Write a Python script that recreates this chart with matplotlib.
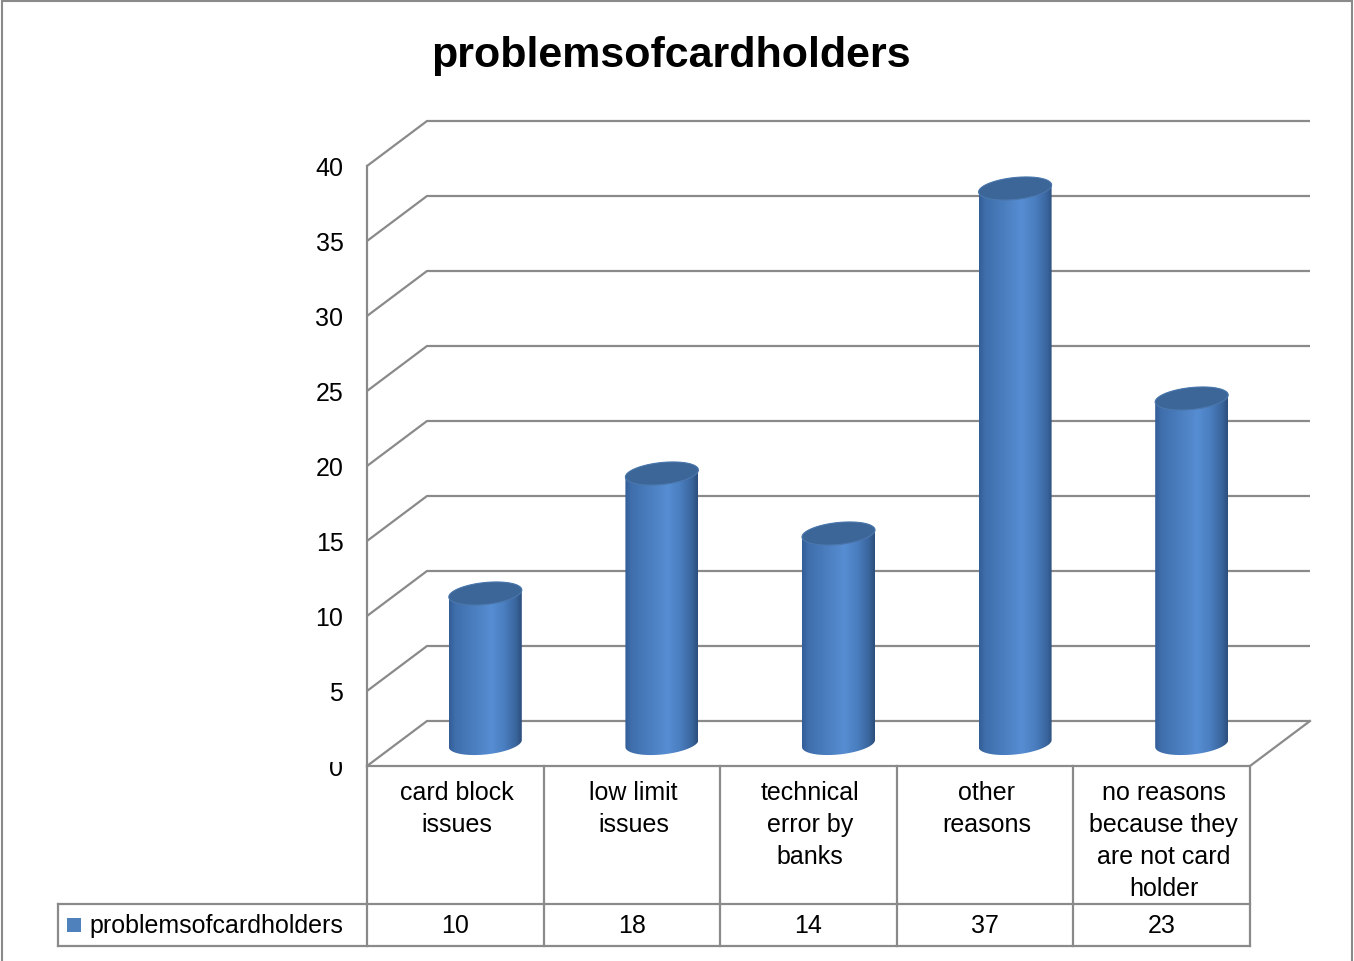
import numpy as np
import matplotlib
matplotlib.use("Agg")
import matplotlib.pyplot as plt
from matplotlib.patches import Polygon, Rectangle
from matplotlib.colors import LinearSegmentedColormap

plt.rcParams["font.family"] = ["Liberation Sans", "DejaVu Sans"]

# ---- data -------------------------------------------------------------
title = "problemsofcardholders"
series_name = "problemsofcardholders"
categories = [
    "card block\nissues",
    "low limit\nissues",
    "technical\nerror by\nbanks",
    "other\nreasons",
    "no reasons\nbecause they\nare not card\nholder",
]
values = [10, 18, 14, 37, 23]
y_ticks = [0, 5, 10, 15, 20, 25, 30, 35, 40]

# ---- figure / axes ----------------------------------------------------
W, H = 1354, 962
fig = plt.figure(figsize=(W / 100, H / 100), dpi=100)
fig.patch.set_facecolor("white")

left_px, right_px, top_px, bottom_px = 367, 1250, 167, 767
ax = fig.add_axes([left_px / W, 1 - bottom_px / H,
                   (right_px - left_px) / W, (bottom_px - top_px) / H])
n = len(categories)
ymax = y_ticks[-1]
ax.set_xlim(0, n)
ax.set_ylim(0, ymax)
for s in ax.spines.values():
    s.set_visible(False)
ax.set_xticks([])
ax.patch.set_alpha(0)

px_x = (right_px - left_px) / n          # pixels per category
px_y = (bottom_px - top_px) / ymax       # pixels per value unit
dx = 60 / px_x                           # depth offset (x)
dy = 45 / px_y                           # depth offset (y)

grid_col = "#8a8a8a"
glw = 1.6

# back wall grid + side wall diagonals
for v in y_ticks:
    ax.plot([0, dx, n + dx], [v, v + dy, v + dy], color=grid_col, lw=glw,
            clip_on=False, zorder=1, solid_capstyle="butt")
# front vertical wall edge
ax.plot([0, 0], [0, ymax], color=grid_col, lw=glw, clip_on=False, zorder=1)
# floor front edge and right floor edge
ax.plot([0, n, n + dx], [0, 0, dy], color=grid_col, lw=glw, clip_on=False, zorder=1)

# y tick labels
ax.set_yticks(y_ticks)
ax.set_yticklabels([str(v) for v in y_ticks])
ax.tick_params(axis="y", length=0, pad=17, labelsize=18, labelcolor="black")
fig.canvas.draw()
zero_label = ax.get_yticklabels()[0]
clip_rect = Rectangle((-3, -5), 3, 5 + 0.25, transform=ax.transData,
                      facecolor="none", edgecolor="none")
ax.add_patch(clip_rect)
zero_label.set_clip_path(clip_rect)
zero_label.set_clip_on(True)

# ---- cylinders ----------------------------------------------------------
body_cmap = LinearSegmentedColormap.from_list("cyl", [
    (0.00, "#335d96"), (0.08, "#3f6eab"), (0.35, "#4b7fc0"),
    (0.58, "#578dd2"), (0.76, "#4a7ec0"), (0.92, "#3a659d"),
    (1.00, "#2c4e7c")])

cyl_w = 73 / px_x
a = cyl_w / 2
b = 11 / px_y
shear = 3.5 / px_y
base = dy / 2
t_low = np.linspace(0, -np.pi, 60)
t_up = np.linspace(np.pi, 0, 60)
t_full = np.linspace(0, 2 * np.pi, 120)
grad = np.linspace(0, 1, 256).reshape(1, -1)

for i, v in enumerate(values):
    cx = i + 0.5 + dx / 2
    top = base + v
    # body outline: base lower arc, left side, top upper arc, right side
    xs_low = cx + a * np.cos(t_low)
    ys_low = base + b * np.sin(t_low) + shear * np.cos(t_low)
    xs_up = cx + a * np.cos(t_up)
    ys_up = top + b * np.sin(t_up) + shear * np.cos(t_up)
    verts = np.vstack([np.column_stack([xs_low, ys_low]),
                       np.column_stack([xs_up, ys_up])])
    body = Polygon(verts, closed=True, facecolor="none", edgecolor="none",
                   transform=ax.transData)
    ax.add_patch(body)
    im = ax.imshow(grad, cmap=body_cmap, aspect="auto",
                   extent=[cx - a, cx + a, base - b - shear, top + b + shear],
                   zorder=3, interpolation="bilinear")
    im.set_clip_path(body)
    # top cap
    xs_c = cx + a * np.cos(t_full)
    ys_c = top + b * np.sin(t_full) + shear * np.cos(t_full)
    cap = Polygon(np.column_stack([xs_c, ys_c]), closed=True,
                  facecolor="#3c6697", edgecolor="#4a77ad", lw=0.8, zorder=4)
    ax.add_patch(cap)

ax.set_xlim(0, n)
ax.set_ylim(0, ymax)

# ---- data table -----------------------------------------------------------
tab_col = "#8a8a8a"
row1 = -(903 - 765) / px_y
row2 = -(945 - 765) / px_y
leg_left = (58 - left_px) / px_x
for k in range(n + 1):
    ax.plot([k, k], [0, row2], color=tab_col, lw=glw, clip_on=False, zorder=1)
ax.plot([leg_left, n], [row1, row1], color=tab_col, lw=glw, clip_on=False)
ax.plot([leg_left, n], [row2, row2], color=tab_col, lw=glw, clip_on=False)
ax.plot([leg_left, leg_left], [row1, row2], color=tab_col, lw=glw, clip_on=False)

label_top = -(779 - 765) / px_y
for i, (cat, v) in enumerate(zip(categories, values)):
    ax.text(i + 0.5 + 0.01, label_top, cat, ha="center", va="top", fontsize=18,
            linespacing=1.42, clip_on=False)
    ax.text(i + 0.5, (row1 + row2) / 2, str(v), ha="center", va="center",
            fontsize=18, clip_on=False)

# legend key inside the table
key_x = (67 - left_px) / px_x
key_w = 14 / px_x
key_h = 14 / px_y
ax.add_patch(Rectangle((key_x, (row1 + row2) / 2 - key_h / 2), key_w, key_h,
                       facecolor="#4f81bd", edgecolor="none", clip_on=False))
ax.text((89 - left_px) / px_x, (row1 + row2) / 2, series_name, ha="left",
        va="center", fontsize=18, clip_on=False)

# ---- title and chart border -------------------------------------------
fig.text(671 / W, 1 - 56 / H, title, ha="center", va="center",
         fontsize=31, fontweight="bold")
fig.add_artist(Rectangle((2 / W, -0.01), (1352 - 2) / W, 1.01 - 1.5 / H,
                         transform=fig.transFigure, facecolor="none",
                         edgecolor="#8a8a8a", lw=1.5))

fig.savefig("out.png", dpi=100)
